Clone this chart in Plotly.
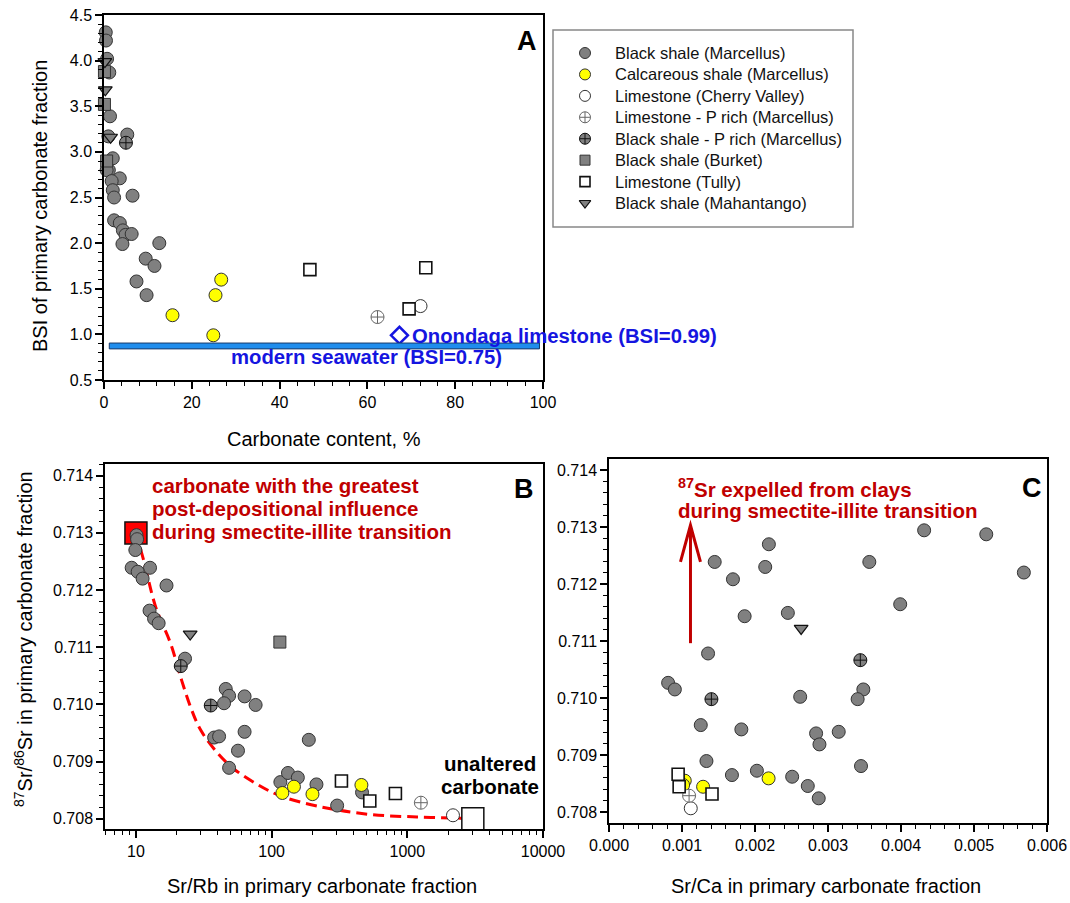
import plotly.graph_objects as go

W, H = 1070, 903
def px(x): return x / W
def py(y): return 1 - y / H

FONT = "Arial, Liberation Sans, sans-serif"
GRAY = "#808080"
EDGE = "#333333"
YEL = "#ffff00"
DRED = "#c00000"
BLUE = "#1515e0"

# ---------------- Panel A data: BSI vs carbonate content ----------------
a_bs_x = [0.4, 0.45, 0.7, 1.2, 1.37, 1.0, 5.3, 2.0, 1.1, 0.6, 3.6, 1.75, 2.0, 2.3, 6.5, 2.3, 3.6, 4.3, 4.9, 6.3, 4.2, 12.6, 9.5, 11.5, 7.4, 9.7]
a_bs_y = [4.31, 4.22, 4.02, 3.87, 3.39, 3.17, 3.19, 2.93, 2.80, 2.80, 2.71, 2.68, 2.58, 2.50, 2.52, 2.25, 2.22, 2.14, 2.09, 2.10, 1.99, 2.00, 1.83, 1.75, 1.58, 1.43]
a_calc_x = [26.7, 25.4, 15.6, 24.9]
a_calc_y = [1.60, 1.43, 1.21, 0.99]
a_cv_x = [72.1]
a_cv_y = [1.31]
a_lsp_x = [62.3]
a_lsp_y = [1.19]
a_bsp_x = [5.0]
a_bsp_y = [3.10]
a_burket_x = [0.1, 0.1, 0.6]
a_burket_y = [3.88, 3.52, 2.90]
a_tully_x = [46.9, 73.3, 69.5]
a_tully_y = [1.71, 1.73, 1.28]
a_mah_x = [0.2, 0.3, 1.5]
a_mah_y = [3.99, 3.68, 3.16]
onondaga_x = [67.3]
onondaga_y = [0.99]
seawater_bsi = 0.873
seawater_x = [1.2, 99.2]

# ---------------- Panel B data: 87Sr/86Sr vs Sr/Rb ----------------
b_bs_x = [10.1, 10.2, 9.9, 9.3, 12.7, 10.3, 11.2, 16.8, 12.6, 13.6, 14.7, 23.0, 45.9, 48.6, 44.6, 63.2, 76.2, 37.7, 41.0, 63.2, 56.5, 48.6, 188, 116, 132, 156, 214, 304, 464]
b_bs_y = [0.71296, 0.71289, 0.71270, 0.71239, 0.71239, 0.71232, 0.71220, 0.71208, 0.71164, 0.71150, 0.71142, 0.71080, 0.71027, 0.71015, 0.71002, 0.71014, 0.70999, 0.70942, 0.70944, 0.70952, 0.70919, 0.70889, 0.70938, 0.70864, 0.70880, 0.70872, 0.70860, 0.70823, 0.70846]
b_calc_x = [120, 146, 200, 459]
b_calc_y = [0.70845, 0.70856, 0.70843, 0.70859]
b_cv_x = [2170]
b_cv_y = [0.70806]
b_lsp_x = [1259]
b_lsp_y = [0.70828]
b_bsp_x = [21.4, 35.6]
b_bsp_y = [0.71067, 0.70998]
b_burket_x = [115]
b_burket_y = [0.71109]
b_tully_x = [327, 529, 817]
b_tully_y = [0.70866, 0.70831, 0.70844]
b_mah_x = [25.1]
b_mah_y = [0.71123]
altered_x = [10]
altered_y = [0.71300]
unaltered_x = [3040]
unaltered_y = [0.70800]
curve_x = [10, 11.4, 14.0, 18.1, 21.4, 25.3, 30.0, 39.9, 52.8, 78.5, 116, 217, 506, 1178, 2455, 2900]
curve_y = [0.71300, 0.71252, 0.71170, 0.71105, 0.71047, 0.70995, 0.70955, 0.70915, 0.70887, 0.70860, 0.70840, 0.70822, 0.70808, 0.70803, 0.70801, 0.70800]

# ---------------- Panel C data: 87Sr/86Sr vs Sr/Ca ----------------
c_bs_x = [0.001448, 0.001698, 0.002190, 0.002140, 0.001858, 0.002450, 0.001357, 0.003566, 0.004317, 0.005168, 0.005683, 0.003989, 0.000810, 0.000902, 0.002619, 0.003484, 0.003406, 0.001257, 0.001813, 0.002837, 0.003147, 0.002883, 0.001335, 0.003452, 0.001684, 0.002026, 0.002509, 0.002723, 0.002873]
c_bs_y = [0.712387, 0.712083, 0.712697, 0.712299, 0.711435, 0.711493, 0.710781, 0.712387, 0.712942, 0.712872, 0.712201, 0.711645, 0.710266, 0.710150, 0.710021, 0.710150, 0.709980, 0.709525, 0.709449, 0.709379, 0.709407, 0.709186, 0.708894, 0.708806, 0.708648, 0.708724, 0.708619, 0.708456, 0.708240]
c_calc_x = [0.001038, 0.001015, 0.001289, 0.002186]
c_calc_y = [0.708549, 0.708473, 0.708443, 0.708590]
c_cv_x = [0.001120]
c_cv_y = [0.708065]
c_lsp_x = [0.001097]
c_lsp_y = [0.708286]
c_bsp_x = [0.003443, 0.001403]
c_bsp_y = [0.710664, 0.709980]
c_tully_x = [0.000947, 0.000961, 0.001411]
c_tully_y = [0.708661, 0.708443, 0.708315]
c_mah_x = [0.002632]
c_mah_y = [0.711220]
arrow_x = 0.001116
arrow_y0 = 0.710962
arrow_y1 = 0.713030
arrow_wing_dx = 0.000137
arrow_wing_dy = 0.000643

series_names = ["Black shale (Marcellus)", "Calcareous shale (Marcellus)", "Limestone (Cherry Valley)",
                "Limestone - P rich (Marcellus)", "Black shale - P rich (Marcellus)", "Black shale (Burket)",
                "Limestone (Tully)", "Black shale (Mahantango)"]

styles = [
    dict(symbol="circle", color=GRAY, line=dict(color=EDGE, width=1)),
    dict(symbol="circle", color=YEL, line=dict(color=EDGE, width=1)),
    dict(symbol="circle", color="white", line=dict(color=EDGE, width=1)),
    dict(symbol="circle-cross", color="white", line=dict(color="#666666", width=1)),
    dict(symbol="circle-cross", color=GRAY, line=dict(color="#111111", width=1)),
    dict(symbol="square", color=GRAY, line=dict(color=EDGE, width=1)),
    dict(symbol="square", color="white", line=dict(color="#111111", width=1.6)),
    dict(symbol="triangle-down", color=GRAY, line=dict(color="#111111", width=1.2)),
]
sizes = [13, 13, 13, 13, 13, 12, 12, 12]
legend_sizes = [11, 11, 11, 11, 11, 10, 10, 10]

fig = go.Figure()

def add_series(xs, ys, idx, xa, ya):
    if not xs:
        return
    fig.add_trace(go.Scatter(
        x=xs, y=ys, mode="markers", name=series_names[idx],
        marker=dict(size=sizes[idx], **styles[idx]),
        xaxis=xa, yaxis=ya, showlegend=False,
        cliponaxis=False, hoverinfo="x+y"))

# Panel A
a_sets = [(a_bs_x, a_bs_y), (a_calc_x, a_calc_y), (a_cv_x, a_cv_y), (a_lsp_x, a_lsp_y),
          (a_bsp_x, a_bsp_y), (a_burket_x, a_burket_y), (a_tully_x, a_tully_y), (a_mah_x, a_mah_y)]
for i, (xs, ys) in enumerate(a_sets):
    add_series(xs, ys, i, "x", "y")
fig.add_trace(go.Scatter(x=onondaga_x, y=onondaga_y, mode="markers",
                         marker=dict(symbol="diamond-open", size=13, color=BLUE, line=dict(width=2.5, color=BLUE)),
                         xaxis="x", yaxis="y", showlegend=False, cliponaxis=False))

# Panel B
fig.add_trace(go.Scatter(x=curve_x, y=curve_y, mode="lines",
                         line=dict(color="#ff0000", width=3, dash="11px,6px", shape="spline", smoothing=1.0),
                         xaxis="x2", yaxis="y2", showlegend=False))
fig.add_trace(go.Scatter(x=altered_x, y=altered_y, mode="markers",
                         marker=dict(symbol="square", size=22, color="#ff0000", line=dict(color="#111111", width=1.5)),
                         xaxis="x2", yaxis="y2", showlegend=False, cliponaxis=False))
fig.add_trace(go.Scatter(x=unaltered_x, y=unaltered_y, mode="markers",
                         marker=dict(symbol="square", size=22, color="white", line=dict(color="#111111", width=1.5)),
                         xaxis="x2", yaxis="y2", showlegend=False, cliponaxis=False))
b_sets = [(b_bs_x, b_bs_y), (b_calc_x, b_calc_y), (b_cv_x, b_cv_y), (b_lsp_x, b_lsp_y),
          (b_bsp_x, b_bsp_y), (b_burket_x, b_burket_y), (b_tully_x, b_tully_y), (b_mah_x, b_mah_y)]
for i, (xs, ys) in enumerate(b_sets):
    add_series(xs, ys, i, "x2", "y2")

# Panel C
c_sets = [(c_bs_x, c_bs_y), (c_calc_x, c_calc_y), (c_cv_x, c_cv_y), (c_lsp_x, c_lsp_y),
          (c_bsp_x, c_bsp_y), ([], []), (c_tully_x, c_tully_y), (c_mah_x, c_mah_y)]
for i, (xs, ys) in enumerate(c_sets):
    add_series(xs, ys, i, "x3", "y3")

# Legend (drawn on its own hidden axes, one row per series)
legend_rows = list(range(len(series_names)))
for i in legend_rows:
    fig.add_trace(go.Scatter(x=[32], y=[i], mode="markers",
                             marker=dict(size=legend_sizes[i], **styles[i]),
                             xaxis="x4", yaxis="y4", showlegend=False, cliponaxis=False, hoverinfo="skip"))

tickfont = dict(family=FONT, size=16, color="black")
def axis(**kw):
    d = dict(showline=True, linewidth=1.5, linecolor="black", mirror=True, showgrid=False, zeroline=False,
             ticks="outside", ticklen=7, tickwidth=1.5, tickcolor="black", tickfont=tickfont, automargin=False)
    d.update(kw)
    return d

minor_log = [v * m for m in (1, 10, 100, 1000) for v in (2, 3, 4, 5, 6, 7, 8, 9)]
mnr = dict(ticklen=4, tickwidth=1, ticks="outside", tickcolor="black")

row_px = 21.43
fig.update_layout(
    width=W, height=H, autosize=False,
    margin=dict(l=0, r=0, t=0, b=0, autoexpand=False),
    paper_bgcolor="white", plot_bgcolor="white", showlegend=False,
    xaxis=axis(domain=[px(104), px(543)], range=[0, 100], dtick=20, anchor="y", minor=dict(dtick=4, **mnr)),
    yaxis=axis(domain=[py(380), py(15)], range=[0.5, 4.5], dtick=0.5, tickformat=".1f", anchor="x",
               minor=dict(dtick=0.1, **mnr)),
    xaxis2=axis(domain=[px(105), px(543)], type="log", range=[0.772, 4.0], tickvals=[10, 100, 1000, 10000],
                ticktext=["10", "100", "1000", "10000"], anchor="y2", minor=dict(tickvals=minor_log, **mnr)),
    yaxis2=axis(domain=[py(829), py(464)], range=[0.70782, 0.714205], dtick=0.001, tickformat=".3f", anchor="x2",
                minor=dict(dtick=0.0002, **mnr)),
    xaxis3=axis(domain=[px(609), px(1047)], range=[0, 0.006], dtick=0.001, tickformat=".3f", anchor="y3",
                minor=dict(dtick=0.0002, **mnr)),
    yaxis3=axis(domain=[py(823), py(459)], range=[0.707807, 0.714193], dtick=0.001, tickformat=".3f", anchor="x3",
                minor=dict(dtick=0.0002, **mnr)),
    xaxis4=dict(domain=[px(553), px(853)], range=[0, 300], visible=False, anchor="y4", fixedrange=True),
    yaxis4=dict(domain=[py(227), py(30)], range=[(227 - 53) / row_px, -(53 - 30) / row_px],
                visible=False, anchor="x4", fixedrange=True),
)

shapes = [
    # legend frame
    dict(type="rect", xref="paper", yref="paper", x0=px(553), x1=px(853), y0=py(227), y1=py(30),
         line=dict(color="#888888", width=1.5)),
    # modern seawater bar
    dict(type="rect", xref="x", yref="y", x0=seawater_x[0], x1=seawater_x[1],
         y0=seawater_bsi - 0.032, y1=seawater_bsi + 0.032,
         fillcolor="#1f8ded", line=dict(color="#1a3a6a", width=1)),
    # red arrow in panel C
    dict(type="line", xref="x3", yref="y3", x0=arrow_x, x1=arrow_x, y0=arrow_y0, y1=arrow_y1,
         line=dict(color=DRED, width=3)),
    dict(type="path", xref="x3", yref="y3",
         path=f"M {arrow_x - arrow_wing_dx},{arrow_y1 - arrow_wing_dy} L {arrow_x},{arrow_y1} L {arrow_x + arrow_wing_dx},{arrow_y1 - arrow_wing_dy}",
         line=dict(color=DRED, width=3)),
]
fig.update_layout(shapes=shapes)

def ann(x, y, text, size=20, color="black", bold=False, angle=0, xanchor="center"):
    t = f"<b>{text}</b>" if bold else text
    return dict(x=px(x), y=py(y), xref="paper", yref="paper", text=t, showarrow=False,
                font=dict(family=FONT, size=size, color=color), textangle=angle,
                xanchor=xanchor, yanchor="middle")

annotations = [
    # panel letters
    ann(527, 41, "A", size=27, bold=True),
    ann(524, 489, "B", size=27, bold=True),
    ann(1032, 488, "C", size=27, bold=True),
    # axis titles
    ann(40, 206, "BSI of primary carbonate fraction", angle=-90),
    ann(324, 439, "Carbonate content, %"),
    ann(23, 639, "<sup>87</sup>Sr/<sup>86</sup>Sr in primary carbonate fraction", angle=-90),
    ann(322, 886, "Sr/Rb in primary carbonate fraction"),
    ann(826, 886, "Sr/Ca in primary carbonate fraction"),
    # panel A notes
    ann(410, 336, "Onondaga limestone (BSI=0.99)", size=20.3, color=BLUE, bold=True, xanchor="left"),
    ann(366, 357, "modern seawater (BSI=0.75)", size=20.3, color=BLUE, bold=True),
    # panel B notes
    ann(150, 485, "carbonate with the greatest", size=20.5, color=DRED, bold=True, xanchor="left"),
    ann(150, 508, "post-depositional influence", size=20.5, color=DRED, bold=True, xanchor="left"),
    ann(150, 531, "during smectite-illite transition", size=20.5, color=DRED, bold=True, xanchor="left"),
    ann(490, 763, "unaltered", size=20.5, bold=True),
    ann(490, 786, "carbonate", size=20.5, bold=True),
    # panel C notes
    ann(676, 488, "<sup>87</sup>Sr expelled from clays", size=20.5, color=DRED, bold=True, xanchor="left"),
    ann(676, 510, "during smectite-illite transition", size=20.5, color=DRED, bold=True, xanchor="left"),
]
# legend labels
for i in legend_rows:
    annotations.append(dict(x=60, y=i, xref="x4", yref="y4", text=series_names[i], showarrow=False,
                            xanchor="left", yanchor="middle",
                            font=dict(family=FONT, size=16.5, color="#111111")))
fig.update_layout(annotations=annotations)

fig.write_html("out.html")
